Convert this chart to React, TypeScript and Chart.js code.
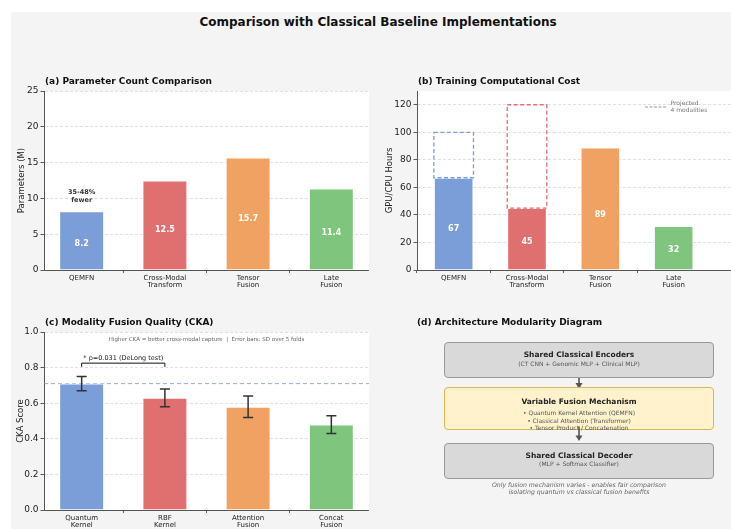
import React, { useEffect, useRef } from "react";
import { Chart, registerables } from "chart.js";

Chart.register(...registerables);

const FONT = "'DejaVu Sans', Verdana, sans-serif";

// ---------------- data ----------------
const methodLabels = [["QEMFN"], ["Cross-Modal", "Transform"], ["Tensor", "Fusion"], ["Late", "Fusion"]];
const paramCounts = [8.2, 12.5, 15.7, 11.4];
const paramTicks = [0, 5, 10, 15, 20, 25];
const paramNote = ["35-48%", "fewer"];

const trainHours = [67, 45, 89, 32];
const projectedHours = [100, 120, null, null];
const hourTicks = [0, 20, 40, 60, 80, 100, 120];
const projectedLegend = ["Projected", "4 modalities"];

const fusionLabels = [["Quantum", "Kernel"], ["RBF", "Kernel"], ["Attention", "Fusion"], ["Concat", "Fusion"]];
const ckaScores = [0.71, 0.63, 0.58, 0.48];
const ckaSD = [0.04, 0.05, 0.06, 0.05];
const ckaTicks = [0, 0.2, 0.4, 0.6, 0.8, 1.0];
const ckaReference = 0.71;
const ckaNote = "Higher CKA = better cross-modal capture  |  Error bars: SD over 5 folds";
const sigText = "* p=0.031 (DeLong test)";
const sigLevels = [0.804, 0.825, 0.85];

const barColors = ["#7b9ed9", "#e06f6f", "#f0a262", "#7fc57d"];

const encoderText = ["Shared Classical Encoders", "(CT CNN + Genomic MLP + Clinical MLP)"];
const fusionText = [
  "Variable Fusion Mechanism",
  "• Quantum Kernel Attention (QEMFN)",
  "• Classical Attention (Transformer)",
  "• Tensor Product / Concatenation",
];
const decoderText = ["Shared Classical Decoder", "(MLP + Softmax Classifier)"];
const captionText = [
  "Only fusion mechanism varies - enables fair comparison",
  "isolating quantum vs classical fusion benefits",
];

// ---------------- helpers ----------------
const plotBg = {
  id: "plotBg",
  beforeDraw(chart: any) {
    const { ctx, chartArea: a } = chart;
    ctx.save();
    ctx.fillStyle = "#ffffff";
    ctx.fillRect(a.left, a.top, a.right - a.left, a.bottom - a.top);
    ctx.restore();
  },
};

function valueLabels(values: number[], fmt: (v: number) => string) {
  return {
    id: "valueLabels",
    afterDatasetsDraw(chart: any) {
      const { ctx, scales } = chart;
      ctx.save();
      ctx.fillStyle = "#ffffff";
      ctx.font = `bold 8px ${FONT}`;
      ctx.textAlign = "center";
      ctx.textBaseline = "middle";
      values.forEach((v, i) => {
        ctx.fillText(fmt(v), scales.x.getPixelForValue(i), scales.y.getPixelForValue(v * 0.45));
      });
      ctx.restore();
    },
  };
}

function barConfig(o: any) {
  const { labels, values, xMin, xMax, yMin, yMax, ticks, yFmt, yTitle, titlePad, plugins } = o;
  return {
    type: "bar",
    data: {
      datasets: [
        {
          data: values.map((v: number, i: number) => ({ x: i, y: v })),
          backgroundColor: barColors,
          borderColor: "#ffffff",
          borderWidth: 1,
          barPercentage: 0.54,
          categoryPercentage: 1,
        },
      ],
    },
    options: {
      responsive: false,
      animation: false,
      layout: { padding: { top: 10, left: 0, right: 0, bottom: 0 } },
      plugins: { legend: { display: false }, tooltip: { enabled: false }, title: { display: false } },
      scales: {
        x: {
          type: "linear",
          min: xMin,
          max: xMax,
          offset: false,
          afterBuildTicks: (s: any) => {
            s.ticks = labels.map((_: any, i: number) => ({ value: i }));
          },
          afterFit: (s: any) => {
            s.height = 30;
          },
          ticks: {
            autoSkip: false,
            maxRotation: 0,
            minRotation: 0,
            padding: 1.5,
            color: "#222",
            font: { family: FONT, size: 7, lineHeight: 1.05 },
            callback: (v: number) => labels[v] ?? "",
          },
          grid: {
            display: true,
            drawOnChartArea: false,
            drawTicks: true,
            tickLength: 3,
            tickColor: (c: any) => (c.tick && c.tick.value >= 0 && c.tick.value < labels.length ? "#333" : "rgba(0,0,0,0)"),
            color: "rgba(0,0,0,0)",
            tickWidth: 0.8,
          },
          border: { display: true, color: "#555", width: 1 },
        },
        y: {
          type: "linear",
          min: yMin,
          max: yMax,
          afterBuildTicks: (s: any) => {
            s.ticks = ticks.map((v: number) => ({ value: v }));
          },
          afterFit: (s: any) => {
            s.width = 44;
          },
          ticks: { padding: 2, color: "#222", font: { family: FONT, size: 9 }, callback: yFmt },
          grid: {
            color: "rgba(0,0,0,0.15)",
            lineWidth: 0.8,
            drawTicks: true,
            tickLength: 3.5,
            tickColor: "#333",
            tickWidth: 0.8,
            tickBorderDash: [],
          },
          border: { display: true, color: "#555", width: 1, dash: [3, 2] },
          title: {
            display: true,
            text: yTitle,
            color: "#222",
            font: { family: FONT, size: 8.5 },
            padding: { top: titlePad, bottom: 0 },
          },
        },
      },
    },
    plugins: [plotBg, ...plugins],
  };
}

// ---------------- panel configs ----------------
function configA() {
  const note = {
    id: "note",
    afterDatasetsDraw(chart: any) {
      const { ctx, scales } = chart;
      const cx = scales.x.getPixelForValue(0);
      const cy = scales.y.getPixelForValue(paramCounts[0] + 2.1);
      ctx.save();
      ctx.fillStyle = "#333";
      ctx.font = `bold 6.5px ${FONT}`;
      ctx.textAlign = "center";
      ctx.textBaseline = "middle";
      ctx.fillText(paramNote[0], cx, cy - 3.7);
      ctx.fillText(paramNote[1], cx, cy + 3.7);
      ctx.restore();
    },
  };
  return barConfig({
    labels: methodLabels,
    values: paramCounts,
    xMin: -0.4525,
    xMax: 3.4525,
    yMin: 0,
    yMax: 25,
    ticks: paramTicks,
    yFmt: (v: number) => String(v),
    yTitle: "Parameters (M)",
    titlePad: 17,
    plugins: [valueLabels(paramCounts, (v) => v.toFixed(1)), note],
  });
}

function configB() {
  const projected = {
    id: "projected",
    afterDatasetsDraw(chart: any) {
      const { ctx, scales } = chart;
      const meta = chart.getDatasetMeta(0);
      ctx.save();
      ctx.lineWidth = 1.3;
      ctx.setLineDash([4, 2.5]);
      projectedHours.forEach((p, i) => {
        if (p == null) return;
        const bar = meta.data[i];
        const w = bar.width;
        const x0 = scales.x.getPixelForValue(i) - w / 2;
        const yTop = scales.y.getPixelForValue(p);
        const yBot = scales.y.getPixelForValue(trainHours[i]);
        ctx.strokeStyle = barColors[i];
        ctx.strokeRect(x0, yTop, w, yBot - yTop);
      });
      ctx.restore();
    },
  };
  const legend = {
    id: "projLegend",
    afterDraw(chart: any) {
      const { ctx } = chart;
      const ox = 645 - 373;
      const oy = 107 - 81;
      ctx.save();
      ctx.strokeStyle = "#999";
      ctx.lineWidth = 1;
      ctx.setLineDash([3, 1.5]);
      ctx.beginPath();
      ctx.moveTo(ox, oy);
      ctx.lineTo(ox + 22, oy);
      ctx.stroke();
      ctx.fillStyle = "#777";
      ctx.font = `6px ${FONT}`;
      ctx.textAlign = "left";
      ctx.textBaseline = "middle";
      ctx.fillText(projectedLegend[0], ox + 25.5, oy - 3.5);
      ctx.fillText(projectedLegend[1], ox + 25.5, oy + 3.5);
      ctx.restore();
    },
  };
  return barConfig({
    labels: methodLabels,
    values: trainHours,
    xMin: -0.5,
    xMax: 4.45,
    yMin: 0,
    yMax: 130,
    ticks: hourTicks,
    yFmt: (v: number) => String(v),
    yTitle: "GPU/CPU Hours",
    titlePad: 12,
    plugins: [valueLabels(trainHours, (v) => String(v)), projected, legend],
  });
}

function configC() {
  const extras = {
    id: "ckaExtras",
    beforeDatasetsDraw(chart: any) {
      const { ctx, scales, chartArea: a } = chart;
      const y = scales.y.getPixelForValue(ckaReference);
      ctx.save();
      ctx.strokeStyle = "rgba(110,145,210,0.75)";
      ctx.lineWidth = 1;
      ctx.setLineDash([4, 3]);
      ctx.beginPath();
      ctx.moveTo(a.left, y);
      ctx.lineTo(a.right, y);
      ctx.stroke();
      ctx.restore();
    },
    afterDatasetsDraw(chart: any) {
      const { ctx, scales, chartArea: a } = chart;
      const X = scales.x;
      const Y = scales.y;
      ctx.save();
      // error bars
      ctx.strokeStyle = "#333";
      ctx.lineWidth = 1.5;
      ckaScores.forEach((v, i) => {
        const x = X.getPixelForValue(i);
        const y1 = Y.getPixelForValue(v + ckaSD[i]);
        const y2 = Y.getPixelForValue(v - ckaSD[i]);
        ctx.beginPath();
        ctx.moveTo(x, y1);
        ctx.lineTo(x, y2);
        ctx.moveTo(x - 5, y1);
        ctx.lineTo(x + 5, y1);
        ctx.moveTo(x - 5, y2);
        ctx.lineTo(x + 5, y2);
        ctx.stroke();
      });
      // significance bracket
      const bx1 = X.getPixelForValue(0);
      const bx2 = X.getPixelForValue(1);
      const yl = Y.getPixelForValue(sigLevels[0]);
      const yh = Y.getPixelForValue(sigLevels[1]);
      ctx.strokeStyle = "#111";
      ctx.lineWidth = 1;
      ctx.beginPath();
      ctx.moveTo(bx1, yl);
      ctx.lineTo(bx1, yh);
      ctx.lineTo(bx2, yh);
      ctx.lineTo(bx2, yl);
      ctx.stroke();
      ctx.fillStyle = "#222";
      ctx.font = `6.5px ${FONT}`;
      ctx.textAlign = "center";
      ctx.textBaseline = "middle";
      ctx.fillText(sigText, (bx1 + bx2) / 2, Y.getPixelForValue(sigLevels[2]));
      // subtitle note
      ctx.fillStyle = "#666";
      ctx.font = `5.5px ${FONT}`;
      ctx.fillText(ckaNote, (a.left + a.right) / 2, Y.getPixelForValue(0.96));
      ctx.restore();
    },
  };
  return barConfig({
    labels: fusionLabels,
    values: ckaScores,
    xMin: -0.4525,
    xMax: 3.4525,
    yMin: 0,
    yMax: 1,
    ticks: ckaTicks,
    yFmt: (v: number) => v.toFixed(1),
    yTitle: "CKA Score",
    titlePad: 16,
    plugins: [extras],
  });
}

// ---------------- components ----------------
function ChartCanvas({ left, top, width, height, make }: any) {
  const ref = useRef<HTMLCanvasElement | null>(null);
  useEffect(() => {
    const chart = new Chart(ref.current as HTMLCanvasElement, make());
    return () => chart.destroy();
  }, []);
  return (
    <canvas
      ref={ref}
      width={width}
      height={height}
      style={{ position: "absolute", left, top, width, height, display: "block" }}
    />
  );
}

function Txt({ cx, cy, size, bold, italic, color, children, left }: any) {
  const lh = size * 1.2;
  const style: any = {
    position: "absolute",
    top: cy - lh / 2,
    height: lh,
    lineHeight: `${lh}px`,
    fontSize: size,
    fontFamily: FONT,
    fontWeight: bold ? "bold" : "normal",
    fontStyle: italic ? "italic" : "normal",
    color,
    whiteSpace: "nowrap",
  };
  if (left != null) {
    style.left = left;
  } else {
    style.left = cx - 200;
    style.width = 400;
    style.textAlign = "center";
  }
  return <div style={style}>{children}</div>;
}

function Box({ x, y, w, h, bg, border }: any) {
  return (
    <div
      style={{
        position: "absolute",
        left: x,
        top: y,
        width: w,
        height: h,
        background: bg,
        border: `1.2px solid ${border}`,
        borderRadius: 4,
        boxSizing: "border-box",
      }}
    />
  );
}

export default function App() {
  const cx = 579;
  return (
    <div
      style={{
        position: "fixed",
        left: 0,
        top: 0,
        width: 731,
        height: 529,
        overflow: "hidden",
        background: "#ffffff",
      }}
    >
      <div style={{ position: "absolute", left: 11, top: 12, width: 740, height: 530, background: "#f4f4f4" }} />
      <Txt cx={378} cy={22} size={12} bold color="#111">
        Comparison with Classical Baseline Implementations
      </Txt>

      <ChartCanvas left={0} top={81} width={369} height={219} make={configA} />
      <ChartCanvas left={373} top={81} width={407} height={219} make={configB} />
      <ChartCanvas left={0} top={322} width={369} height={218} make={configC} />

      <Txt left={45} cy={81} size={9} bold color="#111">(a) Parameter Count Comparison</Txt>
      <Txt left={418} cy={81} size={9} bold color="#111">(b) Training Computational Cost</Txt>
      <Txt left={45} cy={322} size={9} bold color="#111">(c) Modality Fusion Quality (CKA)</Txt>
      <Txt left={417} cy={322} size={9} bold color="#111">(d) Architecture Modularity Diagram</Txt>

      {/* diagram */}
      <svg style={{ position: "absolute", left: 0, top: 0 }} width={731} height={529}>
        <line x1={cx} y1={375} x2={cx} y2={386} stroke="#555" strokeWidth={1.6} />
        <polygon points={`${cx - 3.5},383 ${cx + 3.5},383 ${cx},389`} fill="#555" />
      </svg>
      <Box x={444} y={342} w={270} h={35.5} bg="#d9d9d9" border="#999" />
      <Box x={444} y={387} w={270} h={42.5} bg="#fff2cc" border="#d6b84e" />
      <Box x={444} y={443} w={270} h={35.5} bg="#d9d9d9" border="#999" />
      <svg style={{ position: "absolute", left: 0, top: 0 }} width={731} height={529}>
        <line x1={cx} y1={426.5} x2={cx} y2={437} stroke="#555" strokeWidth={1.6} />
        <polygon points={`${cx - 3.5},435.5 ${cx + 3.5},435.5 ${cx},441`} fill="#555" />
      </svg>

      <Txt cx={cx} cy={354} size={7.5} bold color="#222">{encoderText[0]}</Txt>
      <Txt cx={cx} cy={363.3} size={6} color="#555">{encoderText[1]}</Txt>
      <Txt cx={cx} cy={401.3} size={7.5} bold color="#222">{fusionText[0]}</Txt>
      <Txt cx={cx} cy={413} size={6} color="#555">{fusionText[1]}</Txt>
      <Txt cx={cx} cy={420.3} size={6} color="#555">{fusionText[2]}</Txt>
      <Txt cx={cx} cy={427.7} size={6} color="#555">{fusionText[3]}</Txt>
      <Txt cx={cx} cy={455} size={7.5} bold color="#222">{decoderText[0]}</Txt>
      <Txt cx={cx} cy={464} size={6} color="#555">{decoderText[1]}</Txt>
      <Txt cx={cx} cy={484.3} size={6.2} italic color="#666">{captionText[0]}</Txt>
      <Txt cx={cx} cy={491.7} size={6.2} italic color="#666">{captionText[1]}</Txt>
    </div>
  );
}
